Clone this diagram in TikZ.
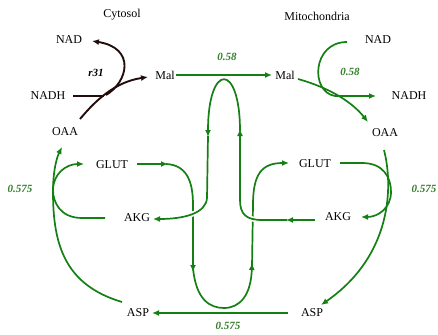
\documentclass[tikz,border=0pt]{standalone}
\usepackage{fontspec}
\setmainfont{Liberation Serif}
\usetikzlibrary{arrows.meta}
\definecolor{gline}{RGB}{20,128,20}
\definecolor{glab}{RGB}{50,128,40}
\definecolor{bline}{RGB}{35,12,12}
\begin{document}
\begin{tikzpicture}[x=1pt,y=-1pt,
  lbl/.style={font=\fontsize{12}{14}\selectfont, inner sep=0pt},
  val/.style={font=\fontsize{11}{13}\selectfont\bfseries\itshape, text=glab, inner sep=0pt},
  gl/.style={draw=gline, line width=1.7pt},
  bl/.style={draw=bline, line width=1.9pt},
  tip/.style={-{Latex[length=7pt,width=6pt]}},
  bridge/.style={preaction={draw=white, line width=5pt}},
]
\path[use as bounding box] (0,0) rectangle (438,334);

% labels
\node[lbl] (cyto) at (122,15) {Cytosol};
\node[lbl] (mito) at (317,16) {Mitochondria};
\node[lbl] (nadL) at (69,40) {NAD};
\node[lbl] (nadhL) at (48,96) {NADH};
\node[lbl] (malL) at (165,75) {Mal};
\node[lbl] (oaaL) at (65,132) {OAA};
\node[lbl] (glutL) at (112,165) {GLUT};
\node[lbl] (akgL) at (137,218) {AKG};
\node[lbl] (aspL) at (138,313) {ASP};
\node[lbl] (malR) at (285,75) {Mal};
\node[lbl] (nadR) at (378,40) {NAD};
\node[lbl] (nadhR) at (409,96) {NADH};
\node[lbl] (oaaR) at (385,133) {OAA};
\node[lbl] (glutR) at (315,164) {GLUT};
\node[lbl] (akgR) at (338,217) {AKG};
\node[lbl] (aspR) at (312,313) {ASP};

\node[val, text=black] (r31) at (96,73) {r31};
\node[val] (v1) at (227,57) {0.58};
\node[val] (v2) at (350,72) {0.58};
\node[val] (v3) at (20,189) {0.575};
\node[val] (v4) at (424,189) {0.575};
\node[val] (v5) at (228,326) {0.575};

% black (cytosol r31)
\draw[bl,tip] (80,119) .. controls (96,100) and (115,82) .. (148,77);
\draw[bl] (73,96) -- (104,96);
\draw[bl,tip] (106,95) .. controls (128,82) and (136,48) .. (92,41);

% Mal transport
\draw[gl,tip] (176,75) -- (272,75);

% mitochondria malate dehydrogenase
\draw[gl,tip] (298,79) .. controls (330,88) and (352,102) .. (368,122);
\draw[gl,tip] (347,42) .. controls (312,42) and (310,92) .. (335,96) -- (376,96);

% GLUT transport (bottom loop)
\draw[gl,tip] (137,164) -- (168,164);
\draw[gl,tip] (166,164) .. controls (186,165) and (193,180) .. (193,205) -- (193,272);
\draw[gl,tip] (193,268) .. controls (196,300) and (210,308) .. (224,308) .. controls (240,308) and (251,295) .. (252,263);
\draw[gl,tip] (252,266) -- (253,205) .. controls (253,175) and (261,163) .. (289,163);

% AKG transport (top loop)
\draw[gl,tip,bridge] (287,220) -- (262,220) .. controls (246,220) and (240,214) .. (240,200) -- (240,129);
\draw[gl,tip,bridge] (208,136) -- (207,198) .. controls (206,213) and (185,219) .. (153,219);
\draw[gl,tip] (315,220) -- (286,220);
\draw[gl,tip] (240,131) .. controls (240,62) and (208,62) .. (208,137);

% left cycle
\draw[gl,tip] (105,218) -- (82,218) .. controls (60,218) and (53,202) .. (53,190) .. controls (53,174) and (66,164) .. (84,164);
\draw[gl,tip] (122,302) .. controls (65,285) and (53,245) .. (53,192) .. controls (53,170) and (57,157) .. (62,147);

% right cycle
\draw[gl,tip] (340,163) -- (362,163) .. controls (384,163) and (391,178) .. (391,192) .. controls (391,208) and (378,217) .. (361,217);
\draw[gl,tip] (384,150) .. controls (393,185) and (393,255) .. (321,305);

% ASP transport
\draw[gl,tip] (288,313) -- (152,313);
\end{tikzpicture}
\end{document}
